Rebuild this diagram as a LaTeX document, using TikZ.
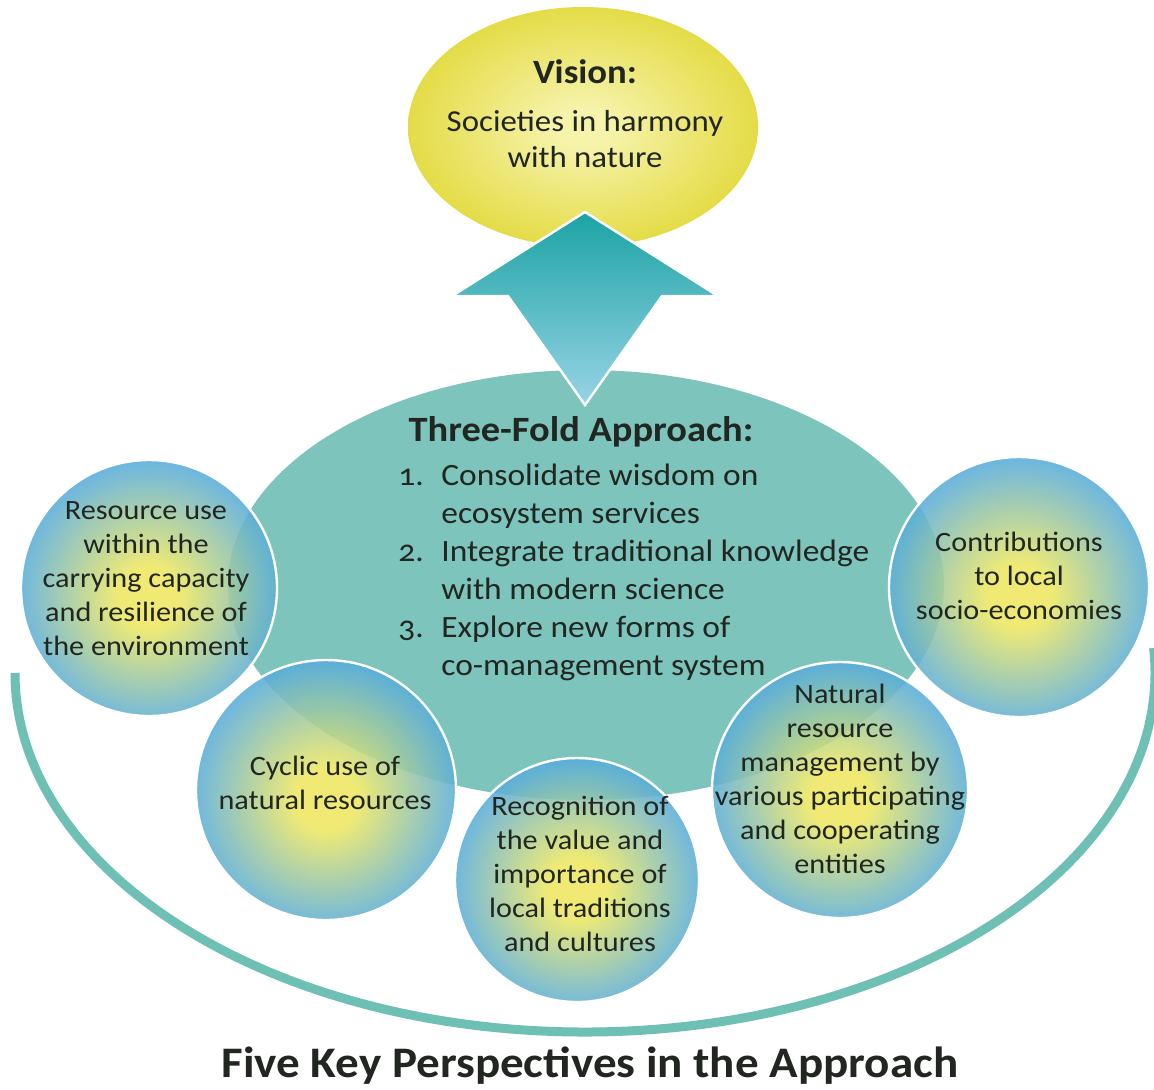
\documentclass[tikz,border=0pt]{standalone}
\usepackage{fontspec}
\setmainfont{Carlito}[FakeStretch=1.08]
\newfontfamily\oldnum{Carlito}[FakeStretch=1.08,Numbers=OldStyle]
\usetikzlibrary{shapes.geometric}
\definecolor{txt}{RGB}{34,38,32}
\definecolor{tealbody}{RGB}{124,196,188}
\definecolor{ucol}{RGB}{110,192,180}
\definecolor{arrtop}{RGB}{28,163,163}
\definecolor{arrbot}{RGB}{152,212,230}
\definecolor{visin}{RGB}{246,243,170}
\definecolor{visout}{RGB}{228,220,70}
\definecolor{ballin}{RGB}{238,232,98}
\definecolor{ballout}{RGB}{86,172,222}
\pgfdeclareradialshading{ballshade}{\pgfpoint{0bp}{-2bp}}{color(0bp)=(ballin); color(6bp)=(ballin); color(26bp)=(ballout); color(50bp)=(ballout)}
\pgfdeclareradialshading{visshade}{\pgfpoint{0bp}{0bp}}{color(0bp)=(visin); color(4bp)=(visin); color(25bp)=(visout); color(50bp)=(visout)}
\tikzset{
  ball/.style={circle, draw=white, line width=1.2pt, minimum size=#1, inner sep=0pt, shade, shading=ballshade, fill opacity=0.88, text opacity=1},
  balltext/.style={align=center, text=txt, font=\fontsize{14}{17}\selectfont, inner sep=0pt},
  ucurve/.style={draw=ucol, line width=4.5pt},
}
\begin{document}
\begin{tikzpicture}[x=0.5pt,y=-0.5pt]
\useasboundingbox (0,0) rectangle (1154,1089);
\fill[white] (0,0) rectangle (1154,1089);

% surrounding U curve
\coordinate (uL) at (15,673);
\draw[ucurve] (uL) arc[start angle=180, end angle=364, x radius=285pt, y radius=179.5pt];

% vision ellipse
\node[ellipse, minimum width=175pt, minimum height=120pt, inner sep=0pt, shade, shading=visshade] (vis) at (583,127) {};
\node[align=center, text=txt, font=\fontsize{15.2}{18}\selectfont] (vistext) at (585,114)
  {{\bfseries\fontsize{17}{18}\selectfont Vision:}\\[6pt] Societies in harmony\\ with nature};

% central teal ellipse
\node[ellipse, minimum width=358pt, minimum height=215pt, inner sep=0pt, fill=tealbody] (approach) at (586,585) {};

% up arrow from approach to vision
\coordinate (atip) at (585,212);
\coordinate (arw) at (718,296);
\coordinate (ari) at (662,296);
\coordinate (abot) at (585,405);
\coordinate (ali) at (508,296);
\coordinate (alw) at (452,296);
\shadedraw[top color=arrtop, bottom color=arrbot, draw=white, line width=1.2pt, line join=miter]
  (atip) -- (arw) -- (ari) -- (abot) -- (ali) -- (alw) -- cycle;

% text of approach
\node[text=txt, font=\bfseries\fontsize{17.8}{20}\selectfont] (three) at (581,432) {Three-Fold Approach:};
\node[anchor=west, text=txt, font=\fontsize{15.5}{19}\selectfont, inner sep=0pt] (list) at (398,573) {%
\begin{tabular}{@{}l@{}l@{}}
\makebox[21.5pt][l]{\oldnum 1.} & Consolidate wisdom on\\
 & ecosystem services\\
\makebox[21.5pt][l]{\oldnum 2.} & Integrate traditional knowledge\\
 & with modern science\\
\makebox[21.5pt][l]{\oldnum 3.} & Explore new forms of\\
 & co-management system
\end{tabular}};

% five perspectives
\node[ball=128pt] (p1) at (149,588) {};
\node[ball=130pt] (p5) at (1019,587) {};
\node[ball=130pt] (p2) at (326,790) {};
\node[ball=122pt] (p3) at (577,880) {};
\node[ball=128pt] (p4) at (840,790) {};

\node[balltext] (t1) at (146,579) {Resource use\\ within the\\ carrying capacity\\ and resilience of\\ the environment};
\node[balltext] (t5) at (1019,576) {Contributions\\ to local\\ socio-economies};
\node[balltext] (t2) at (325,783) {Cyclic use of\\ natural resources};
\node[balltext] (t3) at (580,874) {Recognition of\\ the value and\\ importance of\\ local traditions\\ and cultures};
\node[balltext] (t4) at (840,779) {Natural\\ resource\\ management by\\ various participating\\ and cooperating\\ entities};

% caption
\node[text=txt, font=\bfseries\fontsize{21.8}{24}\selectfont] (caption) at (590,1066) {Five Key Perspectives in the Approach};
\end{tikzpicture}
\end{document}
